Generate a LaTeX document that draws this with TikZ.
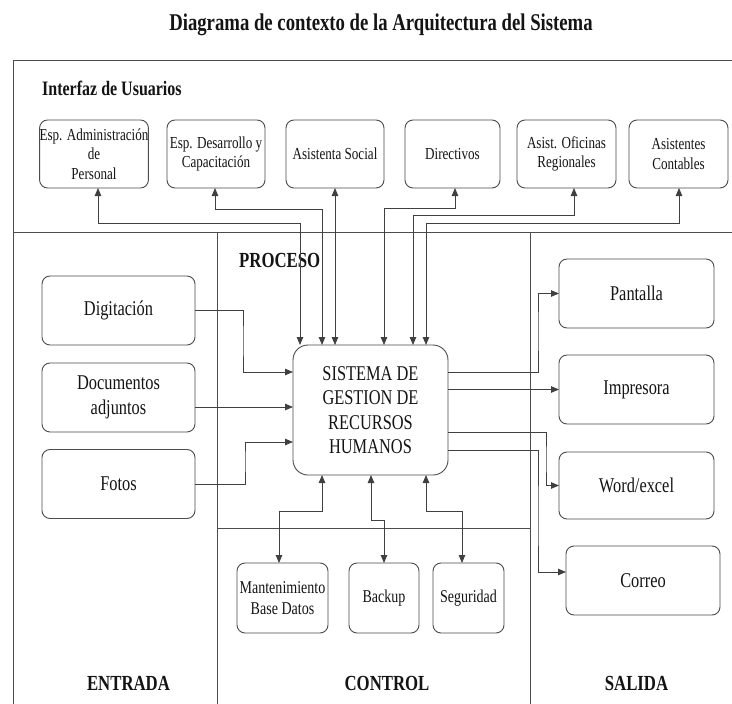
\documentclass[tikz,border=0pt]{standalone}
\usepackage{fontspec}
\setmainfont{Liberation Serif}[FakeStretch=0.78]
\usetikzlibrary{arrows.meta}

\begin{document}
\begin{tikzpicture}[x=1pt,y=-1pt,
  frame/.style={draw=black!70, line width=0.9pt},
  box/.style={draw=black!70, line width=0.9pt, rounded corners=8pt,
    align=center, inner sep=0pt, outer sep=0pt, text=black!92},
  topbox/.style={box, minimum height=68pt,
    font=\fontsize{16.8}{19.5}\selectfont},
  mainbox/.style={box, minimum width=153pt, minimum height=69pt,
    font=\fontsize{21}{25}\selectfont},
  ctlbox/.style={box, minimum height=70pt,
    font=\fontsize{18}{21}\selectfont},
  heading/.style={text=black!92, inner sep=0pt,
    font=\bfseries\fontsize{21.5}{25}\selectfont},
  conn/.style={draw=black!75, line width=0.8pt},
  tip/.style={conn, -{Triangle[length=8pt,width=6.5pt]}},
  both/.style={conn, {Triangle[length=8pt,width=6.5pt]}-{Triangle[length=8pt,width=6.5pt]}}
]
\useasboundingbox (0,0) rectangle (732,704);
\fill[white] (0,0) rectangle (732,704);

% title
\node[heading, font=\bfseries\fontsize{24}{28}\selectfont] (title) at (381,25)
  {Diagrama de contexto de la Arquitectura del Sistema};

% outer frame and zone dividers
\draw[frame] (13,704) -- (13,60) -- (732,60);
\draw[frame] (13,232) -- (732,232);
\draw[frame] (217,232) -- (217,704);
\draw[frame] (530,232) -- (530,704);
\draw[frame] (217,528) -- (530,528);

% zone labels
\node[heading, font=\bfseries\fontsize{20.5}{24}\selectfont, anchor=west] (iface) at (42,88) {Interfaz de Usuarios};
\node[heading, anchor=west] (proc) at (239,260) {PROCESO};
\node[heading] (entr) at (128.5,683) {ENTRADA};
\node[heading] (ctrl) at (387,683) {CONTROL};
\node[heading] (sali) at (636.5,683) {SALIDA};

% user interface boxes
\node[topbox, minimum width=106pt] (adm) at (94,154) {Esp. Administración\\de\\Personal};
\node[topbox, minimum width=98pt] (des) at (216,154) {Esp. Desarrollo y\\Capacitación};
\node[topbox, minimum width=98pt] (soc) at (335,154) {Asistenta Social};
\node[topbox, minimum width=95pt] (dir) at (452.5,154) {Directivos};
\node[topbox, minimum width=99pt] (ofi) at (566.5,154) {Asist. Oficinas\\Regionales};
\node[topbox, minimum width=99pt] (con) at (678.5,154) {Asistentes\\Contables};

% input boxes
\node[mainbox] (dig) at (118.5,310.5) {Digitación};
\node[mainbox] (doc) at (118.5,397.5) {Documentos\\adjuntos};
\node[mainbox] (fot) at (118.5,484) {Fotos};

% central system
\node[box, rounded corners=15pt, minimum width=155pt, minimum height=130pt,
  font=\fontsize{21}{24.3}\selectfont] (sis) at (370.5,410)
  {SISTEMA DE\\GESTION DE\\RECURSOS\\HUMANOS};

% output boxes
\node[mainbox, minimum width=155pt] (pan) at (636.5,293.5) {Pantalla};
\node[mainbox, minimum width=155pt] (imp) at (636.5,389.5) {Impresora};
\node[mainbox, minimum width=155pt, minimum height=67pt] (wor) at (636.5,485.5) {Word/excel};
\node[mainbox, minimum width=154pt] (cor) at (643,580.5) {Correo};

% control boxes
\node[ctlbox, minimum width=91pt] (man) at (282.5,598) {Mantenimiento\\Base Datos};
\node[ctlbox, minimum width=70pt] (bac) at (384,598) {Backup};
\node[ctlbox, minimum width=71pt] (seg) at (468.5,598) {Seguridad};

% users <-> system
\draw[both] ([xshift=4pt]adm.south) |- (300,223) -- ([xshift=-70.5pt]sis.north);
\draw[both] ([xshift=-1pt]des.south) |- (322,209) -- ([xshift=-48.5pt]sis.north);
\draw[both] (soc.south) -- (sis.north -| soc.south);
\draw[both] ([xshift=2.5pt]dir.south) |- (384,208) -- ([xshift=13.5pt]sis.north);
\draw[both] ([xshift=7.5pt]ofi.south) |- (413,215) -- ([xshift=42.5pt]sis.north);
\draw[both] ([xshift=0.5pt]con.south) |- (426,223) -- ([xshift=55.5pt]sis.north);

% inputs -> system
\draw[tip] (dig.east) -| (243,341) |- ([yshift=38pt]sis.west);
\draw[tip] ([yshift=-9.5pt]doc.east) -- ([yshift=3pt]sis.west);
\draw[tip] (fot.east) -| (245,460) |- ([yshift=-32pt]sis.west);

% system -> outputs
\draw[tip] ([yshift=38pt]sis.east) -| (538,330) |- (pan.west);
\draw[tip] (imp.west -| sis.east) -- (imp.west);
\draw[tip] ([yshift=-22pt]sis.east) -| (546,460) |- (wor.west);
\draw[tip] ([yshift=-40pt]sis.east) -| (538,520) |- ([yshift=8.5pt]cor.west);

% system <-> control
\draw[both] ([xshift=-48.5pt]sis.south) |- (279,511) -- ([xshift=-3.5pt]man.north);
\draw[both] ([xshift=0.5pt]sis.south) |- (384,520) -- (bac.north);
\draw[both] ([xshift=55.5pt]sis.south) |- (462,511) -- ([xshift=-6.5pt]seg.north);
\end{tikzpicture}
\end{document}
